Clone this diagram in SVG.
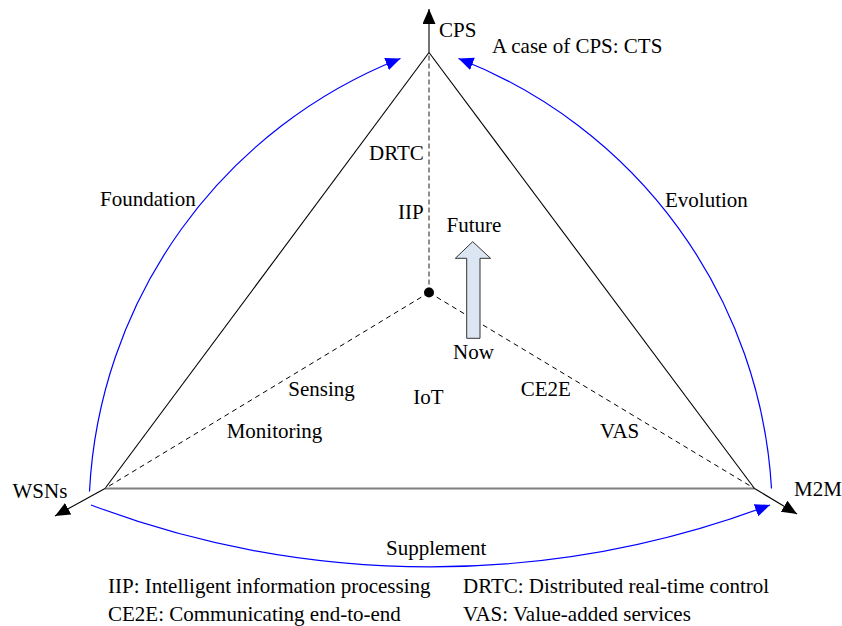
<svg xmlns="http://www.w3.org/2000/svg" width="842" height="626" viewBox="0 0 842 626">
<style>
text{font-family:'Liberation Serif','DejaVu Serif','Times New Roman',serif;font-size:21px;fill:#000}
.side{stroke:#000;stroke-width:1.1;fill:none}
.base{stroke:#7f7f7f;stroke-width:2;fill:none}
.dash{stroke:#000;stroke-width:1;stroke-dasharray:5 4;fill:none}
.vdash{stroke:#555;stroke-width:1.3;stroke-dasharray:5 3;fill:none}
.axis{stroke:#000;stroke-width:1.1;fill:none}
.blue{stroke:#0000ff;stroke-width:1.2;fill:none}
</style>
<defs>
<marker id="ab" markerUnits="userSpaceOnUse" markerWidth="16" markerHeight="14" refX="15" refY="6.5" orient="auto" viewBox="0 0 16 14"><path d="M0,0 L15,6.5 L0,13 Z" fill="#000"/></marker>
<marker id="abl" markerUnits="userSpaceOnUse" markerWidth="16" markerHeight="14" refX="15" refY="6.5" orient="auto" viewBox="0 0 16 14"><path d="M0,0 L15,6.5 L0,13 Z" fill="#0000ff"/></marker>
</defs>

<g id="triangle">
<line class="side" x1="429" y1="52.5" x2="105" y2="488.5"/>
<line class="side" x1="429" y1="52.5" x2="754.5" y2="488.5"/>
<line class="base" x1="105" y1="488.5" x2="754.5" y2="488.5"/>
</g>

<g id="connectors">
<line class="vdash" x1="429" y1="292.5" x2="429" y2="53"/>
<line class="dash" x1="429" y1="292.5" x2="105" y2="488.5"/>
<line class="dash" x1="429" y1="292.5" x2="754.5" y2="488.5"/>
<line class="axis" x1="429" y1="52.5" x2="429" y2="9" marker-end="url(#ab)"/>
<line class="axis" x1="105" y1="488.5" x2="55" y2="516" marker-end="url(#ab)"/>
<line class="axis" x1="754.5" y1="488.5" x2="797" y2="514" marker-end="url(#ab)"/>
<path id="foundation-arc" class="blue" d="M89.5,491.5 A492,492 0 0 1 400.5,58.5" marker-end="url(#abl)"/>
<path id="evolution-arc" class="blue" d="M771.5,488.5 A492,492 0 0 0 458.5,58.5" marker-end="url(#abl)"/>
<path id="supplement-arc" class="blue" d="M91,505 A963,963 0 0 0 770,505" marker-end="url(#abl)"/>
</g>

<g font-family="'Liberation Serif','DejaVu Serif','Times New Roman',serif" font-size="21">
<g id="node-center">
<circle cx="429" cy="292.5" r="5" fill="#000"/>
</g>

<g id="node-arrow">
<polygon points="472.7,241.7 490.6,258.3 480,258.3 480,338.3 466.7,338.3 466.7,258.3 455.3,258.3" fill="#dce6f2" stroke="#333" stroke-width="1"/>
<text x="446.5" y="231.5">Future</text>
<text x="453" y="359">Now</text>
</g>

<g id="node-CPS">
<text x="439" y="37">CPS</text>
<text x="492" y="53">A case of CPS: CTS</text>
</g>
<g id="node-WSNs"><text x="12.5" y="498">WSNs</text></g>
<g id="node-M2M"><text x="794" y="496">M2M</text></g>

<g id="labels">
<text x="369" y="160">DRTC</text>
<text x="398" y="219">IIP</text>
<text x="100" y="206">Foundation</text>
<text x="665" y="206.5">Evolution</text>
<text x="288.3" y="396">Sensing</text>
<text x="413.3" y="404">IoT</text>
<text x="520.7" y="396">CE2E</text>
<text x="226.7" y="438">Monitoring</text>
<text x="600" y="438">VAS</text>
<text x="386" y="555">Supplement</text>
</g>

<g id="legend">
<text x="108" y="592.5">IIP: Intelligent information processing</text>
<text x="463" y="592.5">DRTC: Distributed real-time control</text>
<text x="108" y="620.5">CE2E: Communicating end-to-end</text>
<text x="463" y="620.5">VAS: Value-added services</text>
</g>
</g>
</svg>
